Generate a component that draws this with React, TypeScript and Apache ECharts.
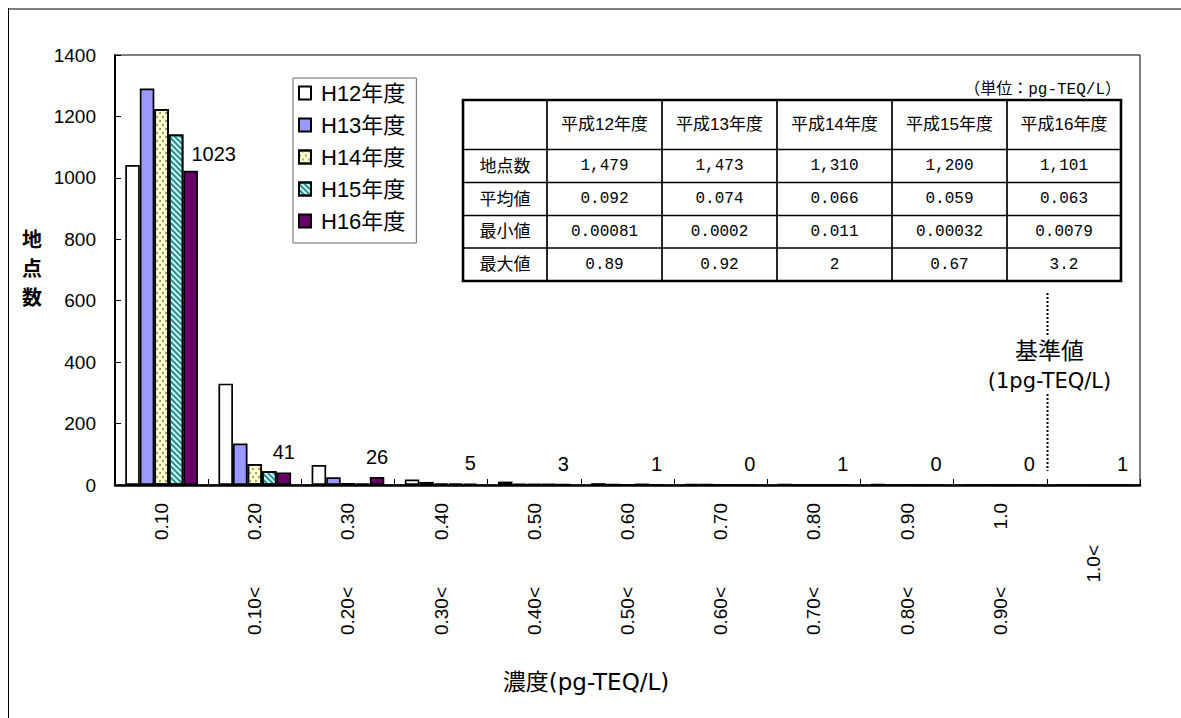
import React, { useEffect, useRef } from "react";
import * as echarts from "echarts";

const FONT = "'Liberation Sans', 'Noto Sans CJK JP', sans-serif";
const WIDE = "'DejaVu Sans', 'Noto Sans CJK JP', sans-serif";
const MONO = "'Liberation Mono', 'Noto Sans CJK JP', monospace";

// categories (concentration classes)
const categories = [
  "〜0.10", "0.10〜0.20", "0.20〜0.30", "0.30〜0.40", "0.40〜0.50", "0.50〜0.60",
  "0.60〜0.70", "0.70〜0.80", "0.80〜0.90", "0.90〜1.0", "1.0〜",
];
const upperLabels = ["0.10", "0.20", "0.30", "0.40", "0.50", "0.60", "0.70", "0.80", "0.90", "1.0", ""];
const lowerLabels = ["", "0.10<", "0.20<", "0.30<", "0.40<", "0.50<", "0.60<", "0.70<", "0.80<", "0.90<", "1.0<"];
const yTicks = [0, 200, 400, 600, 800, 1000, 1200, 1400];

const seriesNames = ["H12年度", "H13年度", "H14年度", "H15年度", "H16年度"];
const h12 = [1042, 330, 65, 18, 11, 6, 3, 2, 2, 0, 0];
const h13 = [1291, 135, 25, 10, 5, 3, 2, 1, 0, 1, 0];
const h14 = [1224, 68, 6, 5, 3, 1, 1, 0, 1, 0, 1];
const h15 = [1141, 45, 5, 4, 2, 2, 1, 0, 0, 0, 0];
const h16 = [1023, 41, 26, 5, 3, 1, 0, 1, 0, 0, 1];

// summary table
const tableHeaders = ["", "平成12年度", "平成13年度", "平成14年度", "平成15年度", "平成16年度"];
const tableRowLabels = ["地点数", "平均値", "最小値", "最大値"];
const tableCount = ["1,479", "1,473", "1,310", "1,200", "1,101"];
const tableMean = ["0.092", "0.074", "0.066", "0.059", "0.063"];
const tableMin = ["0.00081", "0.0002", "0.011", "0.00032", "0.0079"];
const tableMax = ["0.89", "0.92", "2", "0.67", "3.2"];
const tableUnit = "（単位：pg-TEQ/L）";

const xAxisTitle = "濃度(pg-TEQ/L)";
const yAxisTitle = "地\n点\n数";
const refTitle = "基準値";
const refSub = "(1pg-TEQ/L)";

export default function App() {
  const ref = useRef<HTMLDivElement>(null);

  useEffect(() => {
    if (!ref.current) return;
    document.documentElement.style.overflow = "hidden";
    document.body.style.overflow = "hidden";
    document.body.style.margin = "0";
    const chart = echarts.init(ref.current, null, { renderer: "svg" });

    const border = { borderColor: "#000", borderWidth: 1.7 };
    const labelBase = {
      interval: 0,
      rotate: 90,
      fontSize: 19,
      color: "#000",
      fontFamily: FONT,
    };

    const option: any = {
      animation: false,
      backgroundColor: "#fff",
      textStyle: { fontFamily: FONT },
      grid: {
        left: 115,
        top: 55,
        width: 1025,
        height: 430,
        show: true,
        borderColor: "#000",
        borderWidth: 1,
        backgroundColor: "transparent",
      },
      legend: {
        data: seriesNames,
        orient: "vertical",
        left: 293,
        top: 78,
        icon: "rect",
        itemWidth: 12,
        itemHeight: 13,
        itemGap: 10,
        padding: [4, 11, 11, 5],
        borderColor: "#666",
        borderWidth: 1,
        textStyle: { fontSize: 22, color: "#000", fontFamily: FONT, lineHeight: 22, padding: [0, 0, 0, 5] },
        selectedMode: false,
      },
      xAxis: [
        {
          type: "category",
          data: categories,
          position: "bottom",
          axisLine: { lineStyle: { color: "#000", width: 2.5 } },
          axisTick: { show: true, inside: true, length: 6, lineStyle: { color: "#000", width: 1 } },
          axisLabel: { ...labelBase, margin: 18, formatter: (_v: string, i: number) => upperLabels[i] },
          splitLine: { show: false },
        },
        {
          type: "category",
          data: categories,
          position: "bottom",
          axisLine: { show: false },
          axisTick: { show: false },
          axisLabel: {
            ...labelBase,
            margin: 102,
            formatter: (_v: string, i: number) => (upperLabels[i] ? lowerLabels[i] : ""),
          },
          splitLine: { show: false },
        },
        {
          type: "category",
          data: categories,
          position: "bottom",
          axisLine: { show: false },
          axisTick: { show: false },
          axisLabel: {
            ...labelBase,
            margin: 60,
            formatter: (_v: string, i: number) => (upperLabels[i] ? "" : lowerLabels[i]),
          },
          splitLine: { show: false },
        },
      ],
      yAxis: {
        type: "value",
        min: yTicks[0],
        max: yTicks[yTicks.length - 1],
        interval: yTicks[1] - yTicks[0],
        axisLine: { show: true, lineStyle: { color: "#000", width: 2 } },
        axisTick: { show: true, inside: true, length: 6, lineStyle: { color: "#000", width: 1 } },
        splitLine: { show: false },
        axisLabel: {
          fontSize: 19,
          color: "#000",
          margin: 19,
          fontFamily: FONT,
          formatter: (v: number) => String(v),
        },
      },
      series: [
        {
          name: seriesNames[0],
          type: "bar",
          data: h12,
          barCategoryGap: "22%",
          barGap: "0%",
          itemStyle: { color: "#ffffff", ...border },
        },
        {
          name: seriesNames[1],
          type: "bar",
          data: h13,
          barGap: "0%",
          itemStyle: { color: "#9999ff", ...border },
        },
        {
          name: seriesNames[2],
          type: "bar",
          data: h14,
          barGap: "0%",
          itemStyle: {
            color: "#ffffcc",
            ...border,
            decal: {
              symbol: "rect",
              symbolSize: 1,
              color: "#a09e80",
              dashArrayX: [[2, 4], [0, 3, 2, 1]],
              dashArrayY: [2, 2],
            },
          },
        },
        {
          name: seriesNames[3],
          type: "bar",
          data: h15,
          barGap: "0%",
          itemStyle: {
            color: "#ccffff",
            ...border,
            decal: {
              symbol: "rect",
              symbolSize: 1,
              color: "#2e8a8a",
              dashArrayX: [1, 0],
              dashArrayY: [2, 2],
              rotation: Math.PI / 4,
            },
          },
        },
        {
          name: seriesNames[4],
          type: "bar",
          data: h16.map((v, i) => (i === 0 ? { value: v, label: { offset: [23, 3] } } : v)),
          barGap: "0%",
          itemStyle: { color: "#660066", ...border },
          label: {
            show: true,
            position: "top",
            distance: 10,
            fontSize: 20,
            color: "#000",
            fontFamily: FONT,
          },
        },
      ],
    };
    chart.setOption(option);

    // reference line at the boundary between the last two classes
    const xa = chart.convertToPixel({ xAxisIndex: 0 }, 9) as number;
    const xb = chart.convertToPixel({ xAxisIndex: 0 }, 10) as number;
    const refX = Math.round((xa + xb) / 2) + 0.5;

    // table geometry (page coordinates)
    const colEdges = [463, 547, 662, 777, 892, 1007, 1121];
    const rowEdges = [100, 149.5, 182.5, 215.5, 248, 281];
    const tableBody = [tableCount, tableMean, tableMin, tableMax];

    const graphics: any[] = [];
    // outer page frame (top & left)
    graphics.push({ type: "line", shape: { x1: 8, y1: 9, x2: 1181, y2: 9 }, style: { stroke: "#000", lineWidth: 1 } });
    graphics.push({ type: "line", shape: { x1: 8.5, y1: 8, x2: 8.5, y2: 718 }, style: { stroke: "#000", lineWidth: 1 } });

    // table
    graphics.push({
      type: "rect",
      shape: { x: colEdges[0], y: rowEdges[0], width: colEdges[6] - colEdges[0], height: rowEdges[5] - rowEdges[0] },
      style: { fill: "#fff", stroke: "#000", lineWidth: 2.6 },
      z: 10,
    });
    for (let c = 1; c < colEdges.length - 1; c++) {
      graphics.push({
        type: "line",
        shape: { x1: colEdges[c], y1: rowEdges[0], x2: colEdges[c], y2: rowEdges[5] },
        style: { stroke: "#000", lineWidth: 1.7 },
        z: 11,
      });
    }
    for (let r = 1; r < rowEdges.length - 1; r++) {
      graphics.push({
        type: "line",
        shape: { x1: colEdges[0], y1: rowEdges[r], x2: colEdges[6], y2: rowEdges[r] },
        style: { stroke: "#000", lineWidth: 1.7 },
        z: 11,
      });
    }
    const cellText = (text: string, c: number, r: number, font: string, size: number) => ({
      type: "text",
      x: (colEdges[c] + colEdges[c + 1]) / 2,
      y: (rowEdges[r] + rowEdges[r + 1]) / 2,
      z: 12,
      style: { text, fill: "#000", font: `${size}px ${font}`, align: "center", verticalAlign: "middle" },
    });
    tableHeaders.forEach((h, c) => {
      if (h) graphics.push(cellText(h, c, 0, FONT, 17));
    });
    tableRowLabels.forEach((l, r) => {
      graphics.push(cellText(l, 0, r + 1, FONT, 17));
      tableBody[r].forEach((v, c) => graphics.push(cellText(v, c + 1, r + 1, MONO, 16)));
    });
    graphics.push({
      type: "text",
      x: 1121,
      y: 90,
      z: 12,
      style: { text: tableUnit, fill: "#000", font: `16px ${MONO}`, align: "right", verticalAlign: "middle" },
    });

    // reference line + label
    graphics.push({
      type: "line",
      shape: { x1: refX, y1: 293, x2: refX, y2: 337 },
      style: { stroke: "#000", lineWidth: 2, lineDash: [2, 2] },
    });
    graphics.push({
      type: "line",
      shape: { x1: refX, y1: 394, x2: refX, y2: 471 },
      style: { stroke: "#000", lineWidth: 2, lineDash: [2, 2] },
    });
    graphics.push({
      type: "text",
      x: refX + 2,
      y: 351,
      style: { text: refTitle, fill: "#000", font: `23px ${WIDE}`, align: "center", verticalAlign: "middle" },
    });
    graphics.push({
      type: "text",
      x: refX + 2,
      y: 381,
      style: { text: refSub, fill: "#000", font: `21px ${WIDE}`, align: "center", verticalAlign: "middle" },
    });

    // axis titles
    graphics.push({
      type: "text",
      x: 586,
      y: 682,
      style: { text: xAxisTitle, fill: "#000", font: `23px ${WIDE}`, align: "center", verticalAlign: "middle" },
    });
    graphics.push({
      type: "text",
      x: 32,
      y: 269,
      style: {
        text: yAxisTitle,
        fill: "#000",
        font: `bold 20px ${FONT}`,
        align: "center",
        verticalAlign: "middle",
        lineHeight: 29,
      },
    });

    chart.setOption({ graphic: graphics });

    return () => chart.dispose();
  }, []);

  return (
    <div
      ref={ref}
      style={{ position: "absolute", left: 0, top: 0, width: 1181, height: 718 }}
    />
  );
}
